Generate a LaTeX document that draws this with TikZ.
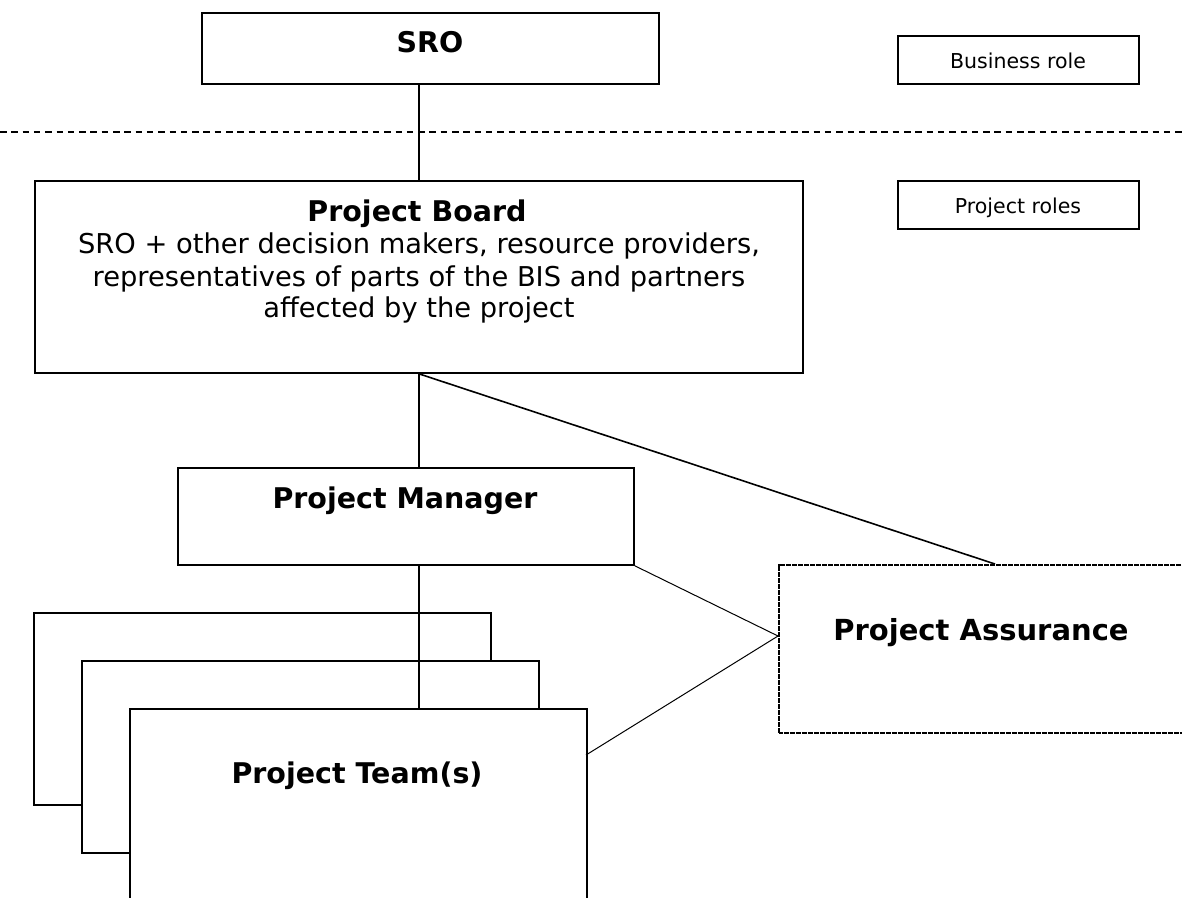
\documentclass[tikz,border=0pt]{standalone}
\usepackage{fontspec}
\setmainfont{DejaVu Sans}
\begin{document}
\begin{tikzpicture}[x=1pt,y=-1pt,
  box/.style={draw, line width=1.8pt, fill=white, inner sep=0pt, anchor=north west},
  pabox/.style={draw, line width=1.5pt, dash pattern=on 0.7pt off 0.5pt, fill=white, inner sep=0pt, anchor=north west},
  conn/.style={line width=1.6pt},
  thinconn/.style={line width=1pt},
  divider/.style={line width=1.5pt, dash pattern=on 6.5pt off 4.8pt},
  title/.style={font=\fontsize{28.5}{34}\selectfont\bfseries, anchor=base, inner sep=0pt},
  smalltxt/.style={font=\fontsize{20.5}{24}\selectfont, anchor=base, inner sep=0pt},
  bodytxt/.style={font=\fontsize{27.3}{32}\selectfont, anchor=base, inner sep=0pt},
]
\useasboundingbox (0,0) rectangle (1182,897);
\clip (0,0) rectangle (1182,897);
% divider
\coordinate (dl) at (0,132);
\coordinate (dr) at (1182,132);
\draw[divider] (dl) -- (dr);
% boxes
\node[box, minimum width=457pt, minimum height=71pt] (sro) at (201,12) {};
\node[box, minimum width=241pt, minimum height=48pt] (biz) at (897,35) {};
\node[box, minimum width=241pt, minimum height=48pt] (prj) at (897,180) {};
\node[box, minimum width=768pt, minimum height=192pt] (pb) at (34,180) {};
\node[box, minimum width=456pt, minimum height=97pt] (pm) at (177,467) {};
\node[box, minimum width=457pt, minimum height=192pt] (t3) at (33,612) {};
\node[box, minimum width=457pt, minimum height=192pt] (t2) at (81,660) {};
\node[box, minimum width=457pt, minimum height=230pt] (t1) at (129,708) {};
\node[pabox, minimum width=407pt, minimum height=168pt] (pa) at (778,564) {};
% connector points
\coordinate (patop) at (995,564);
\coordinate (pavx) at (778,636);
\coordinate (t1r) at (586,755);
% connectors
\draw[conn] (pb.north |- sro.south) -- (pb.north);
\draw[conn] (pb.south) -- (pb.south |- pm.north);
\draw[conn] (pb.south) -- (patop);
\draw[conn] (pb.south |- pm.south) -- (pb.south |- t1.north);
\draw[thinconn] (pm.south east) -- (pavx);
\draw[thinconn] (t1r) -- (pavx);
% texts
\node[title] (sroT) at (430,52) {SRO};
\node[smalltxt] (bizT) at (1018,68) {Business role};
\node[smalltxt] (prjT) at (1018,213) {Project roles};
\node[title] (pbT) at (417,221) {Project Board};
\node[bodytxt] (pb1) at (419,253) {SRO + other decision makers, resource providers,};
\node[bodytxt] (pb2) at (419,286) {representatives of parts of the BIS and partners};
\node[bodytxt] (pb3) at (419,317) {affected by the project};
\node[title] (pmT) at (405,508) {Project Manager};
\node[title] (t1T) at (357,783) {Project Team(s)};
\node[title, font=\fontsize{29}{34}\selectfont\bfseries] (paT) at (981,640) {Project Assurance};
\end{tikzpicture}
\end{document}
